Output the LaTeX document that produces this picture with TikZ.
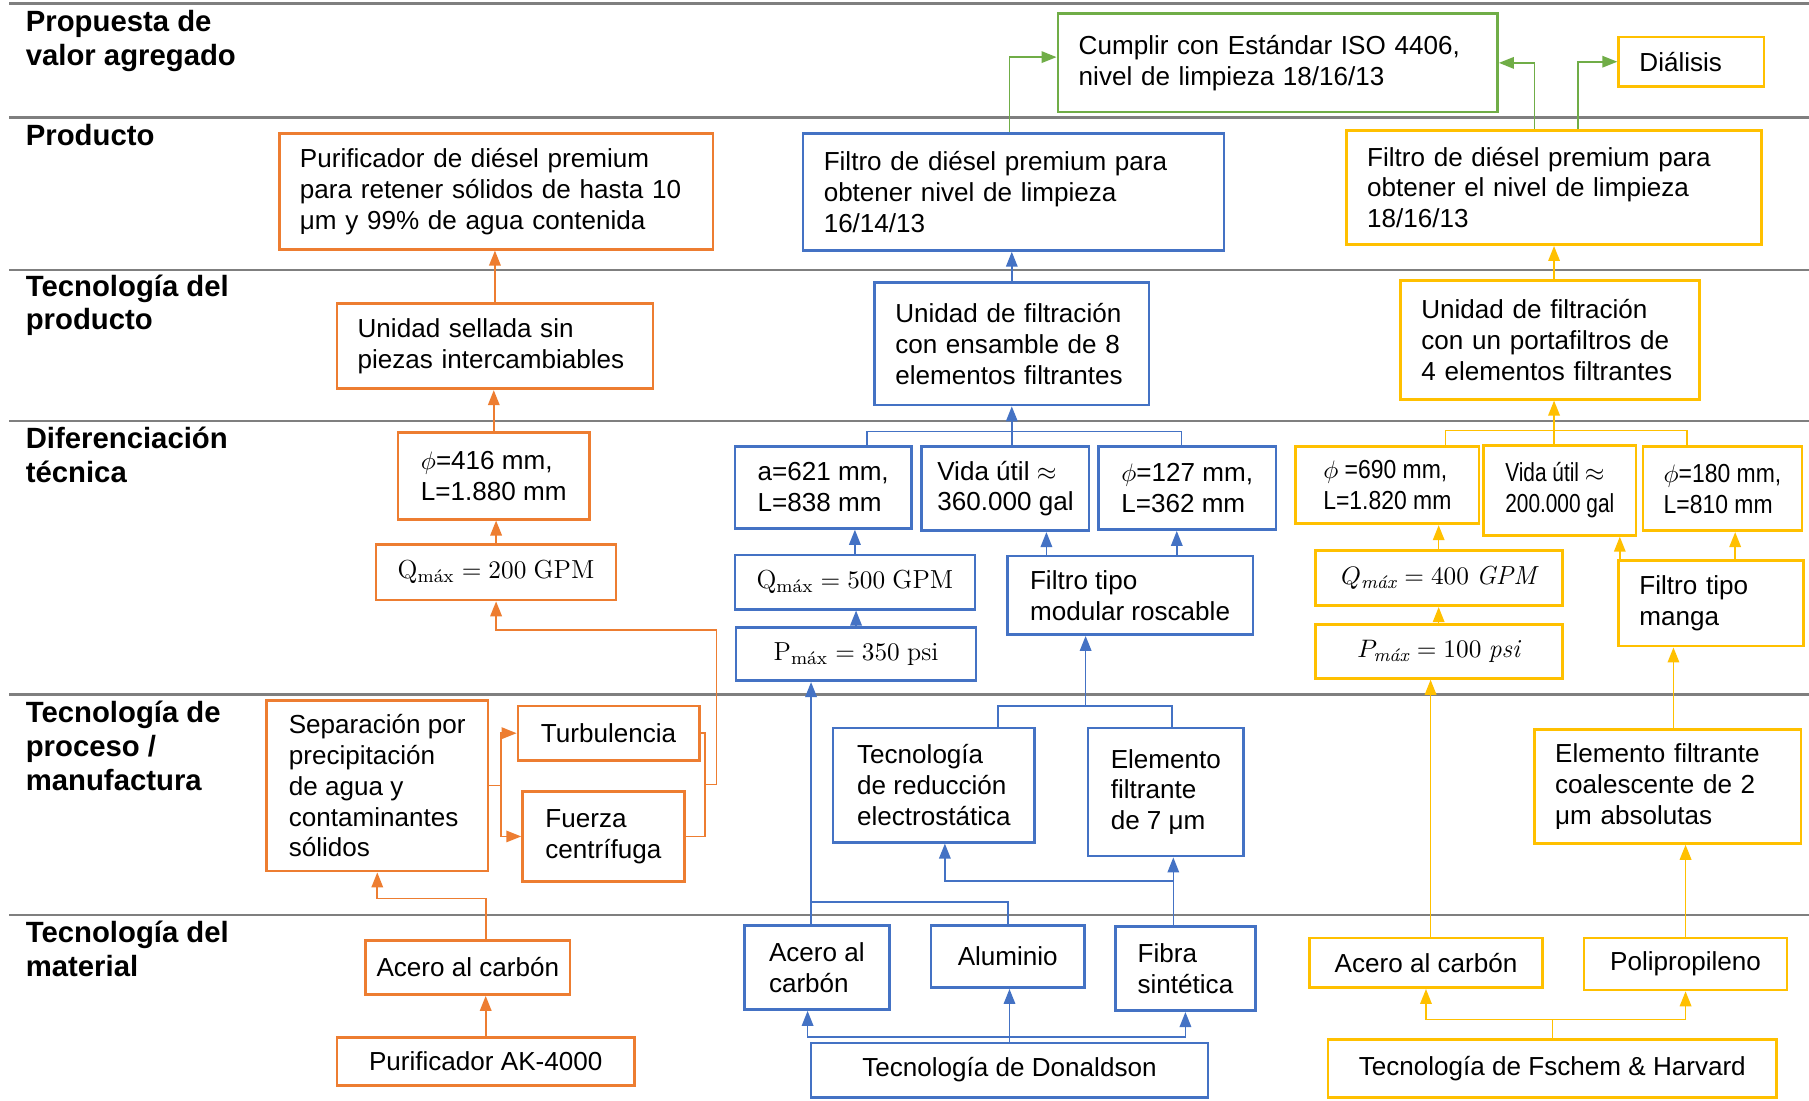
\documentclass[tikz,border=0pt]{standalone}
\usepackage{amsmath}
\usepackage{fontspec}
\setsansfont{Liberation Sans}
\newfontfamily\estrecha[FakeStretch=0.88]{Liberation Sans}
\newfontfamily\muyestrecha[FakeStretch=0.8]{Liberation Sans}
\usetikzlibrary{arrows.meta, calc}

\definecolor{naranja}{HTML}{ED7D31}
\definecolor{azul}{HTML}{4472C4}
\definecolor{amarillo}{HTML}{FFC000}
\definecolor{verde}{HTML}{70AD47}
\definecolor{gris}{HTML}{7F7F7F}

\newcommand{\texto}{\sffamily\fontsize{11.3}{13.4}\selectfont}
\newcommand{\etiqueta}{\sffamily\bfseries\fontsize{12.7}{14.6}\selectfont}

\begin{document}
\begin{tikzpicture}[
    x=0.5pt, y=-0.5pt,
    caja/.style={rectangle, draw=#1, line width=1.2pt, fill=white, inner sep=0pt, align=left, font=\texto},
    centro/.style={align=center},
    estrecho/.style={font=\texto\estrecha},
    muyestrecho/.style={font=\texto\muyestrecha},
    fila/.style={anchor=base west, align=left, inner sep=0pt, font=\etiqueta},
    separa/.style={draw=gris, line width=1.1pt},
    linea/.style={draw=#1, line width=0.7pt},
    flecha/.style={draw=#1, line width=0.7pt, -{Triangle[length=6.5pt, width=5pt]}},
]

\path[use as bounding box, fill=white] (0,0) rectangle (1568,954);

% ---- Separators ----
\foreach \y in {3,102,234,365,602,793}
  \draw[separa] (8,\y) -- (1568,\y);

% ---- Row labels (anchored at the last line) ----
\node[fila] (lb1) at (22,56.5) {Propuesta de\\valor agregado};
\node[fila] (lb2) at (22,126) {Producto};
\node[fila] (lb3) at (22,286) {Tecnología del\\producto};
\node[fila] (lb4) at (22,418) {Diferenciación\\técnica};
\node[fila] (lb5) at (22,685) {Tecnología de\\proceso /\\manufactura};
\node[fila] (lb6) at (22,846) {Tecnología del\\material};

% ---- Value proposition ----
\node[caja=verde, minimum width=190.5pt, minimum height=42.5pt, text width=172.5pt] (isoV) at (1107.5,54.5) {Cumplir con Estándar ISO 4406,\\nivel de limpieza 18/16/13\\[4pt]};
\node[caja=amarillo, minimum width=63pt, minimum height=21.5pt, text width=45pt] (dialY) at (1466,53.5) {Diálisis};

% ---- Product ----
\node[caja=naranja, minimum width=188pt, minimum height=50pt, text width=170pt] (purN) at (430,166) {Purificador de diésel premium\\para retener sólidos de hasta 10\\μm y 99\% de agua contenida};
\node[caja=azul, minimum width=182.5pt, minimum height=50.5pt, text width=164.5pt] (filA) at (878.5,166.5) {Filtro de diésel premium para\\obtener nivel de limpieza\\16/14/13};
\node[caja=amarillo, minimum width=180pt, minimum height=49.5pt, text width=162pt] (filY) at (1347,162.5) {Filtro de diésel premium para\\obtener el nivel de limpieza\\18/16/13};

% ---- Product technology ----
\node[caja=naranja, minimum width=137pt, minimum height=37pt, text width=119pt] (uniN) at (429,300) {Unidad sellada sin\\piezas intercambiables};
\node[caja=azul, minimum width=119pt, minimum height=53pt, text width=101pt] (uniA) at (877,298) {Unidad de filtración\\con ensamble de 8\\elementos filtrantes};
\node[caja=amarillo, minimum width=129.5pt, minimum height=51.5pt, text width=111.5pt] (uniY) at (1343.5,294.5) {Unidad de filtración\\con un portafiltros de\\4 elementos filtrantes};

% ---- Technical differentiation ----
\node[caja=naranja, minimum width=83pt, minimum height=37.5pt] (phiN) at (428,412.5) {$\phi$=416 mm,\\L=1.880 mm};
\node[caja=naranja, centro, minimum width=104pt, minimum height=24pt] (qN) at (430,496) {$\mathrm{Q}_{\textrm{máx}} = 200\ \mathrm{GPM}$};

\node[caja=azul, minimum width=76.5pt, minimum height=35.5pt] (aA) at (713.5,422.5) {a=621 mm,\\L=838 mm};
\node[caja=azul, minimum width=72.5pt, minimum height=36.5pt] (vidaA) at (871.5,423.5) {Vida útil $\approx$\\360.000 gal};
\node[caja=azul, minimum width=77pt, minimum height=36pt] (phiA) at (1029,423) {$\phi$=127 mm,\\L=362 mm};
\node[caja=azul, centro, minimum width=104pt, minimum height=23.5pt] (qA) at (741,504.5) {$\mathrm{Q}_{\textrm{máx}} = 500\ \mathrm{GPM}$};
\node[caja=azul, centro, minimum width=104pt, minimum height=23pt] (pA) at (742,567) {$\mathrm{P}_{\textrm{máx}} = 350\ \mathrm{psi}$};
\node[caja=azul, minimum width=106.5pt, minimum height=34pt] (modA) at (979.5,516) {Filtro tipo\\modular roscable};

\node[caja=amarillo, estrecho, minimum width=79.5pt, minimum height=33.5pt] (phiY1) at (1202.5,420.5) {$\phi$ =690 mm,\\L=1.820 mm};
\node[caja=amarillo, muyestrecho, minimum width=66pt, minimum height=39pt] (vidaY) at (1352,425) {Vida útil $\approx$\\200.000 gal};
\node[caja=amarillo, estrecho, minimum width=69pt, minimum height=36.5pt] (phiY3) at (1493,423.5) {$\phi$=180 mm,\\L=810 mm};
\node[caja=amarillo, centro, minimum width=107pt, minimum height=24pt] (qY) at (1247,501) {$Q_{\textrm{\itshape máx}} = 400\ \mathit{GPM}$};
\node[caja=amarillo, centro, minimum width=107pt, minimum height=23.5pt] (pY) at (1247,564.5) {$P_{\textrm{\itshape máx}} = 100\ \mathit{psi}$};
\node[caja=amarillo, minimum width=80pt, minimum height=37pt, text width=62pt] (mangaY) at (1483,523) {Filtro tipo\\manga};

% ---- Process technology ----
\node[caja=naranja, minimum width=96pt, minimum height=74pt] (sepN) at (327,681) {Separación por\\precipitación\\de agua y\\contaminantes\\sólidos};
\node[caja=naranja, centro, minimum width=78.5pt, minimum height=23.5pt] (turN) at (527.5,635.5) {Turbulencia};
\node[caja=naranja, minimum width=70pt, minimum height=39pt] (fueN) at (523,725) {Fuerza\\centrífuga};
\node[caja=azul, minimum width=87.5pt, minimum height=49.5pt] (tecA) at (809.5,680.5) {Tecnología\\de reducción\\electrostática};
\node[caja=azul, minimum width=67.5pt, minimum height=55.5pt] (eleA) at (1010.5,686.5) {Elemento\\filtrante\\de 7 μm};
\node[caja=amarillo, minimum width=115.5pt, minimum height=49.5pt, text width=97.5pt] (eleY) at (1445.5,681.5) {Elemento filtrante\\coalescente de 2\\μm absolutas};

% ---- Material technology ----
\node[caja=naranja, centro, minimum width=88.5pt, minimum height=23.5pt] (acN) at (405.5,838.5) {Acero al carbón};
\node[caja=naranja, centro, minimum width=129pt, minimum height=21pt] (akN) at (421,920) {Purificador AK-4000};
\node[caja=azul, minimum width=63pt, minimum height=36.5pt] (acA) at (708,838.5) {Acero al\\carbón};
\node[caja=azul, centro, minimum width=66.5pt, minimum height=27pt] (aluA) at (873.5,829) {Aluminio};
\node[caja=azul, minimum width=60.5pt, minimum height=36.5pt] (fibA) at (1027.5,839.5) {Fibra\\sintética};
\node[caja=azul, centro, minimum width=172pt, minimum height=23.5pt] (donA) at (875,927.5) {Tecnología de Donaldson};
\node[caja=amarillo, centro, minimum width=101pt, minimum height=21.5pt] (acY) at (1236,834.5) {Acero al carbón};
\node[caja=amarillo, centro, minimum width=88pt, minimum height=22.5pt] (polY) at (1461,835.5) {Polipropileno};
\node[caja=amarillo, centro, minimum width=194.5pt, minimum height=25pt] (fscY) at (1345.5,926) {Tecnología de Fschem \& Harvard};

% ---- Arrows: orange ----
\draw[flecha=naranja] (uniN.north) -- (uniN.north |- purN.south);
\draw[flecha=naranja] (phiN.north) -- (phiN.north |- uniN.south);
\draw[flecha=naranja] (qN.north) -- (qN.north |- phiN.south);
\coordinate (brN) at (434,681);
\draw[flecha=naranja] (sepN.east) -- (brN) |- (turN.west);
\draw[flecha=naranja] (brN) |- (fueN.west);
\coordinate (brN2) at (611,680);
\draw[linea=naranja] (turN.east) -| (brN2) |- (fueN.east);
\coordinate (codoN) at (621,546);
\draw[flecha=naranja] (brN2) -| (codoN) -| (qN.south);
\draw[flecha=naranja] (acN.north -| akN.north) -- ++(0,-35) -| (sepN.south);
\draw[flecha=naranja] (akN.north) -- (akN.north |- acN.south);

% ---- Arrows: blue ----
\draw[flecha=azul] (uniA.north) -- (uniA.north |- filA.south);
\coordinate (ramA) at (877,374);
\draw[linea=azul] ($(aA.north)+(38,0)$) |- (ramA) -| ($(phiA.north)+(-5,0)$);
\draw[linea=azul] (vidaA.north -| ramA) -- (ramA);
\draw[flecha=azul] (ramA) -- (ramA |- uniA.south);
\draw[flecha=azul] (qA.north) -- (qA.north |- aA.south);
\draw[flecha=azul] (pA.north) -- (pA.north |- qA.south);
\coordinate (m1) at ($(modA.north)+(-72.5,0)$);
\coordinate (m2) at ($(modA.north)+(40.5,0)$);
\draw[flecha=azul] (m1) -- (m1 |- vidaA.south);
\draw[flecha=azul] (m2) -- (m2 |- phiA.south);
\coordinate (a1) at ($(acA.north)+(-5,0)$);
\draw[flecha=azul] (a1) -- (a1 |- pA.south);
\draw[linea=azul] (aluA.north) |- ($(a1)+(0,-19)$);
\coordinate (f1) at ($(fibA.north)+(-10.5,0)$);
\draw[flecha=azul] (f1) -- (f1 |- eleA.south);
\coordinate (t1) at ($(tecA.south)+(9.5,0)$);
\draw[flecha=azul] ($(f1)+(0,-38)$) -| (t1);
\coordinate (ramA2) at (941,612);
\draw[linea=azul] ($(tecA.north)+(55.5,0)$) |- (ramA2) -| ($(eleA.north)+(5.5,0)$);
\draw[flecha=azul] (ramA2) -- (ramA2 |- modA.south);
\draw[flecha=azul] (donA.north) -- (donA.north |- aluA.south);
\coordinate (ramA3) at (875,899);
\draw[flecha=azul] (ramA3) -| ($(acA.south)+(-8,0)$);
\draw[flecha=azul] (ramA3) -| (fibA.south);

% ---- Arrows: yellow ----
\draw[flecha=amarillo] (uniY.north -| filY.south) -- (filY.south);
\coordinate (ramY) at (1347,373);
\draw[linea=amarillo] ($(phiY1.north)+(50.5,0)$) |- (ramY) -| ($(phiY3.north)+(-31,0)$);
\draw[linea=amarillo] (vidaY.north -| ramY) -- (ramY);
\draw[flecha=amarillo] (ramY) -- (ramY |- uniY.south);
\draw[flecha=amarillo] (qY.north) -- (qY.north |- phiY1.south);
\draw[flecha=amarillo] (pY.north) -- (pY.north |- qY.south);
\coordinate (g1) at ($(mangaY.north)+(-79,0)$);
\coordinate (g2) at ($(mangaY.north)+(21,0)$);
\draw[flecha=amarillo] (g1) -- (g1 |- vidaY.south);
\draw[flecha=amarillo] (g2) -- (g2 |- phiY3.south);
\coordinate (g3) at ($(acY.north)+(4,0)$);
\draw[flecha=amarillo] (g3) -- (g3 |- pY.south);
\coordinate (g4) at ($(eleY.north)+(5,0)$);
\draw[flecha=amarillo] (g4) -- (g4 |- mangaY.south);
\draw[flecha=amarillo] (polY.north) -- (polY.north |- eleY.south);
\coordinate (ramY2) at ($(fscY.north)+(0,-16)$);
\draw[linea=amarillo] (fscY.north) -- (ramY2);
\draw[flecha=amarillo] (ramY2) -| (acY.south);
\draw[flecha=amarillo] (ramY2) -| (polY.south);

% ---- Arrows: green ----
\coordinate (v1) at ($(filA.north)+(-3.5,0)$);
\draw[flecha=verde] (v1) |- ($(isoV.west)+(0,-5)$);
\coordinate (v2) at ($(filY.north)+(-17,0)$);
\draw[flecha=verde] (v2) |- (isoV.east);
\coordinate (v3) at ($(filY.north)+(21,0)$);
\draw[flecha=verde] (v3) |- (dialY.west);

\end{tikzpicture}
\end{document}
